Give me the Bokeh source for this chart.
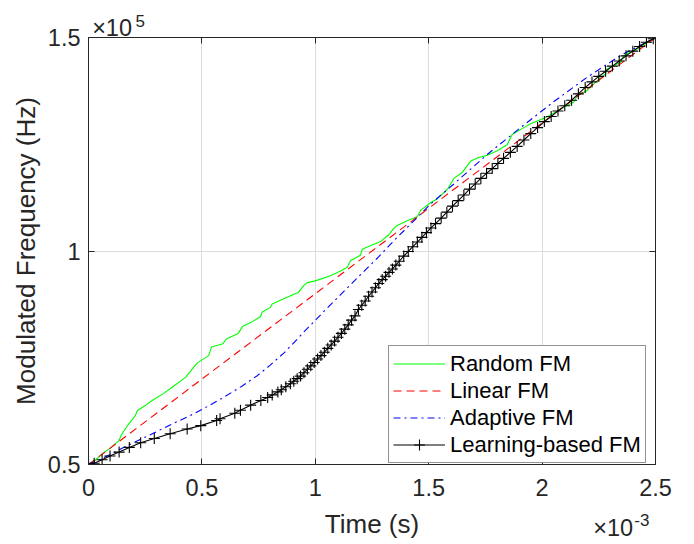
from bokeh.plotting import figure
from bokeh.models import Range1d, LinearAxis, FixedTicker, Legend, LegendItem
from bokeh.embed import file_html
from bokeh.resources import INLINE

# ---- data (time in ms i.e. x10^-3 s, frequency in kHz i.e. x10^5 Hz / 100) ----
x_ticks = [0, 0.5, 1, 1.5, 2, 2.5]
x_tick_labels = ["0", "0.5", "1", "1.5", "2", "2.5"]
y_ticks = [50, 100, 150]
y_tick_labels = ["0.5", "1", "1.5"]

random_t = [0, 0.03, 0.06, 0.10, 0.134, 0.148, 0.17, 0.207, 0.215, 0.25, 0.281, 0.33, 0.369,
            0.428, 0.464, 0.48, 0.53, 0.542, 0.593, 0.608, 0.66, 0.68, 0.72, 0.758, 0.766,
            0.802, 0.81, 0.86, 0.925, 0.949, 0.964, 1.0, 1.067, 1.111, 1.141, 1.155, 1.199,
            1.207, 1.245, 1.288, 1.324, 1.346, 1.361, 1.405, 1.449, 1.464, 1.508, 1.537,
            1.582, 1.611, 1.648, 1.684, 1.72, 1.758, 1.80, 1.846, 1.868, 1.91, 1.949, 2.022,
            2.096, 2.14, 2.155, 2.199, 2.243, 2.28, 2.287, 2.346, 2.36, 2.419, 2.478, 2.5]
random_f = [50.0, 51.0, 52.5, 54.0, 55.6, 57.2, 59.0, 61.5, 62.6, 63.8, 65.0, 66.6, 68.1,
            70.4, 72.8, 73.8, 75.5, 77.5, 78.3, 79.4, 80.7, 82.4, 83.4, 84.6, 85.7,
            86.8, 87.6, 88.8, 90.3, 91.9, 92.6, 93.0, 94.2, 95.3, 96.2, 97.7, 99.0,
            100.4, 101.3, 102.2, 103.8, 105.3, 106.0, 107.1, 108.0, 109.5, 111.3, 112.2,
            114.4, 117.0, 118.4, 121.0, 121.9, 122.4, 123.4, 124.9, 127.3, 128.6, 129.8, 131.4,
            133.7, 134.9, 136.4, 137.6, 139.9, 141.5, 142.6, 144.2, 145.8, 147.3, 149.3, 150.0]

linear_t = [0, 2.5]
linear_f = [50.0, 150.0]

adaptive_t = [0, 0.075, 0.163, 0.281, 0.369, 0.45, 0.501, 0.589, 0.678, 0.744, 0.80, 0.861,
              0.898, 0.949, 1.008, 1.037, 1.097, 1.185, 1.273, 1.332, 1.361, 1.449, 1.50,
              1.611, 1.758, 1.905, 2.052, 2.199, 2.346, 2.5]
adaptive_f = [50.0, 51.8, 54.2, 57.2, 59.5, 61.5, 62.9, 65.5, 68.4, 70.8, 73.2, 76.1,
              78.1, 81.0, 84.2, 85.8, 89.0, 93.7, 98.3, 101.6, 103.2, 107.8, 110.6,
              115.7, 122.6, 128.9, 135.0, 140.7, 145.8, 150.0]

learning_t = [0, 0.025, 0.06, 0.095, 0.135, 0.18, 0.23, 0.29, 0.36, 0.435, 0.495, 0.565, 0.58,
              0.645, 0.67, 0.715, 0.76, 0.79, 0.81, 0.835, 0.85, 0.87, 0.89, 0.905, 0.92,
              0.935, 0.95, 0.965, 0.98, 0.995, 1.01, 1.025, 1.04, 1.055, 1.07, 1.085, 1.10,
              1.115, 1.13, 1.145, 1.16, 1.175, 1.19, 1.205, 1.22, 1.235, 1.25, 1.265, 1.28,
              1.295, 1.31, 1.325, 1.34, 1.355, 1.37, 1.39, 1.41, 1.43, 1.45, 1.47, 1.49, 1.51,
              1.53, 1.555, 1.58, 1.605, 1.63, 1.655, 1.68, 1.705, 1.73, 1.755, 1.78, 1.805,
              1.83, 1.86, 1.89, 1.92, 1.95, 1.98, 2.01, 2.04, 2.07, 2.10, 2.13, 2.16, 2.19,
              2.22, 2.25, 2.28, 2.31, 2.34, 2.37, 2.40, 2.43, 2.46, 2.49, 2.5]
learning_f = [50.0, 50.3, 51.1, 52.0, 52.9, 54.0, 55.1, 56.1, 57.2, 58.3, 59.1, 60.3, 60.7,
              62.0, 62.7, 63.9, 65.0, 65.7, 66.3, 67.0, 67.5, 68.2, 68.9, 69.5, 70.1,
              70.7, 71.5, 72.3, 73.1, 73.9, 74.7, 75.5, 76.3, 77.2, 78.0, 78.9, 79.8,
              80.7, 81.7, 82.7, 83.8, 84.8, 86.3, 87.3, 88.3, 89.4, 90.4, 91.4, 92.4,
              93.3, 94.1, 95.0, 95.8, 96.7, 97.6, 98.8, 99.9, 101.0, 102.1, 103.2, 104.3, 105.4,
              106.4, 107.7, 109.1, 110.5, 111.8, 113.1, 114.5, 115.7, 117.0, 118.2, 119.3, 120.5,
              121.7, 123.1, 124.5, 126.0, 127.5, 128.9, 130.3, 131.5, 132.8, 134.0, 135.3, 136.8, 138.3,
              139.6, 140.9, 142.1, 143.3, 144.5, 145.7, 146.8, 147.9, 148.9, 149.7, 150.0]

# exponent annotations: (x position in axis units, text)
x_exp_base = (2.313, "\u00d710")
x_exp_power = (2.44, "-3")
y_exp_base = (0.104, "\u00d710")
y_exp_power = (0.228, "5")

FONT = "Liberation Sans"
AX = "#262626"

p = figure(width=694, height=544, output_backend="svg", toolbar_location=None,
           x_range=Range1d(0, 2.5), y_range=Range1d(50, 150),
           min_border_left=88, min_border_right=39, min_border_top=37, min_border_bottom=80)
p.background_fill_color = "white"
p.border_fill_color = "white"
p.outline_line_color = AX
p.outline_line_width = 1

for ax, ticks, labels in ((p.xaxis[0], x_ticks, x_tick_labels), (p.yaxis[0], y_ticks, y_tick_labels)):
    ax.ticker = FixedTicker(ticks=ticks)
    ax.major_label_overrides = dict(zip(ticks, labels))
    ax.major_label_text_font = FONT
    ax.major_label_text_font_size = "23.5px"
    ax.major_label_text_color = AX
    ax.axis_line_color = AX
    ax.major_tick_line_color = AX
    ax.major_tick_in = 6
    ax.major_tick_out = 0
    ax.minor_tick_line_color = None
    ax.axis_label_text_font = FONT
    ax.axis_label_text_font_size = "26px"
    ax.axis_label_text_font_style = "normal"
    ax.axis_label_text_color = AX

p.xaxis[0].axis_label = "Time (s)"
p.yaxis[0].axis_label = "Modulated Frequency (Hz)"
p.xaxis[0].major_label_standoff = 14
p.yaxis[0].major_label_standoff = 8
p.xaxis[0].axis_label_standoff = 10
p.yaxis[0].axis_label_standoff = 4

# mirrored tick axes (box on)
for loc, ticks in (("right", y_ticks), ("above", x_ticks)):
    a = LinearAxis(ticker=FixedTicker(ticks=ticks), major_label_text_font_size="0px",
                   major_label_text_color=None,
                   axis_line_color=AX, major_tick_line_color=AX, major_tick_in=6,
                   major_tick_out=0, minor_tick_line_color=None, major_label_standoff=0)
    p.add_layout(a, loc)


def exponent_axis(pos_text, size, standoff):
    pos, text = pos_text
    return LinearAxis(ticker=FixedTicker(ticks=[pos]), major_label_overrides={pos: text},
                      major_label_text_font=FONT, major_label_text_font_size=size,
                      major_label_text_color=AX, major_label_standoff=standoff,
                      axis_line_color=None, major_tick_line_color=None,
                      minor_tick_line_color=None, major_tick_in=0, major_tick_out=0)


p.add_layout(exponent_axis(y_exp_base, "23.5px", -3), "above")
p.add_layout(exponent_axis(y_exp_power, "17px", -15), "above")
p.add_layout(exponent_axis(x_exp_base, "23.5px", -27), "below")
p.add_layout(exponent_axis(x_exp_power, "17px", -30), "below")

p.xgrid.ticker = FixedTicker(ticks=x_ticks)
p.ygrid.ticker = FixedTicker(ticks=y_ticks)
p.grid.grid_line_color = "#dcdcdc"
p.grid.grid_line_width = 1

r_rand = p.line(random_t, random_f, line_color="#00ff00", line_width=1.1)
r_lin = p.line(linear_t, linear_f, line_color="#ff0000", line_width=1.1, line_dash="8 5")
r_ad = p.line(adaptive_t, adaptive_f, line_color="#0000ff", line_width=1.1, line_dash="7 4 2 4")
r_lr = p.line(learning_t, learning_f, line_color="black", line_width=1.1)
r_lr_m = p.scatter(learning_t, learning_f, marker="cross", size=11, line_color="black",
                   line_width=1.1)

legend = Legend(items=[
    LegendItem(label="Random FM", renderers=[r_rand]),
    LegendItem(label="Linear FM", renderers=[r_lin]),
    LegendItem(label="Adaptive FM", renderers=[r_ad]),
    LegendItem(label="Learning-based FM", renderers=[r_lr, r_lr_m]),
], location=(300, 1))
legend.label_text_font = FONT
legend.label_text_font_size = "22px"
legend.label_text_color = "black"
legend.glyph_width = 52
legend.glyph_height = 27
legend.label_height = 27
legend.label_standoff = 5
legend.spacing = 0
legend.padding = 4
legend.margin = 0
legend.border_line_color = AX
legend.border_line_width = 1
legend.background_fill_color = "white"
legend.background_fill_alpha = 1
p.add_layout(legend, "center")

open("out.html", "w").write(file_html(p, INLINE))
